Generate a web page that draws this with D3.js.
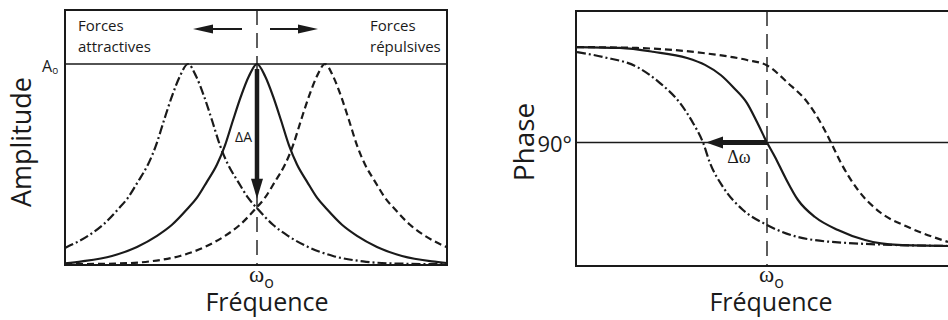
<!DOCTYPE html>
<html>
<meta charset="utf-8">
<style>
    body {
        margin: 0;
        background: #fff;
    }

    text {
        font-family: 'Open Sans', sans-serif;
        fill: #1a1a1a;
    }

    .greek {
        font-family: 'Liberation Serif', serif;
    }
</style>

<body>
    <svg id="chart" width="948" height="320"></svg>
    <script src="https://d3js.org/d3.v7.min.js"></script>
    <script>

        // amplitude (A / A0) against frequency, omega0 at 0
        const ampCentre = [[-1.92, 0.008], [-1.75, 0.018], [-1.45, 0.045], [-1.2, 0.09], [-1.0, 0.145], [-0.85, 0.2], [-0.7, 0.277], [-0.6, 0.335], [-0.5, 0.415], [-0.4, 0.5], [-0.32, 0.595], [-0.24, 0.72], [-0.16, 0.84], [-0.08, 0.94], [0, 1], [0.08, 0.94], [0.16, 0.84], [0.24, 0.72], [0.32, 0.595], [0.4, 0.5], [0.5, 0.415], [0.6, 0.335], [0.7, 0.277], [0.85, 0.2], [1.0, 0.145], [1.2, 0.09], [1.45, 0.045], [1.75, 0.018], [1.9, 0.01]]
        const ampAttractive = [[-1.92, 0.085], [-1.69, 0.145], [-1.54, 0.2], [-1.39, 0.277], [-1.29, 0.335], [-1.19, 0.415], [-1.09, 0.5], [-1.01, 0.595], [-0.93, 0.72], [-0.85, 0.84], [-0.77, 0.94], [-0.69, 1], [-0.61, 0.94], [-0.53, 0.84], [-0.45, 0.72], [-0.37, 0.595], [-0.29, 0.5], [-0.19, 0.415], [-0.09, 0.335], [0.01, 0.277], [0.16, 0.2], [0.31, 0.145], [0.51, 0.09], [0.76, 0.045], [1.06, 0.018], [1.41, 0.007], [1.9, 0.004]]
        const ampRepulsive = [[-1.92, 0.004], [-1.42, 0.007], [-1.07, 0.018], [-0.77, 0.045], [-0.52, 0.09], [-0.32, 0.145], [-0.17, 0.2], [-0.02, 0.277], [0.08, 0.335], [0.18, 0.415], [0.28, 0.5], [0.36, 0.595], [0.44, 0.72], [0.52, 0.84], [0.6, 0.94], [0.68, 1], [0.76, 0.94], [0.84, 0.84], [0.92, 0.72], [1.0, 0.595], [1.08, 0.5], [1.18, 0.415], [1.28, 0.335], [1.38, 0.277], [1.53, 0.2], [1.68, 0.145], [1.9, 0.088]]

        // phase (degrees) against frequency
        const phaseCentre = [[-1.9, 173], [-1.47, 172.2], [-1.14, 168.9], [-0.8, 163.5], [-0.62, 157.5], [-0.46, 148.5], [-0.34, 138.3], [-0.2, 124.3], [-0.1, 107.8], [0, 90], [0.08, 77.4], [0.18, 60], [0.31, 40], [0.48, 25.2], [0.71, 13.9], [0.98, 5.2], [1.31, 0.9], [1.81, 0]]
        const phaseAttractive = [[-1.9, 168.7], [-1.64, 164.3], [-1.3, 155.7], [-1.07, 141.7], [-0.87, 124.3], [-0.74, 107], [-0.64, 90], [-0.57, 72.2], [-0.44, 51.3], [-0.24, 31.3], [0, 18.3], [0.31, 7.8], [0.81, 2.6], [1.81, 0]]
        const phaseRepulsive = [[-1.9, 173], [-1.3, 172.2], [-0.64, 167.8], [-0.2, 161.7], [0, 157], [0.21, 141.7], [0.41, 124.3], [0.56, 103.5], [0.64, 90], [0.74, 72.2], [0.91, 48.7], [1.14, 28.7], [1.41, 16.5], [1.81, 3.5]]

        const omega0 = 0
        const phaseRef = 90
        const ampRef = 1
        const ampShift = 0.33   // amplitude read at omega0 once shifted
        const omegaShift = -0.61

        const ink = "#1a1a1a"
        const chart = d3.select("#chart")

        const styles = {
            solid: null,
            attractive: "9,3,2,3",
            repulsive: "7,4"
        }

        const drawArrow = (g, x1, y1, x2, y2, width, headLen, headHalf) => {
            const dx = x2 - x1, dy = y2 - y1
            const len = Math.sqrt(dx * dx + dy * dy)
            const ux = dx / len, uy = dy / len
            const bx = x2 - ux * headLen, by = y2 - uy * headLen
            g.append("line")
                .attr("x1", x1).attr("y1", y1)
                .attr("x2", bx + ux).attr("y2", by + uy)
                .attr("stroke", ink)
                .attr("stroke-width", width)
            g.append("path")
                .attr("d", "M" + x2 + "," + y2 +
                    "L" + (bx - uy * headHalf) + "," + (by + ux * headHalf) +
                    "L" + (bx + uy * headHalf) + "," + (by - ux * headHalf) + "Z")
                .attr("fill", ink)
        }

        // ---------- amplitude panel
        const xAmp = d3.scaleLinear().domain([-1.92, 1.90]).range([65, 447])
        const yAmp = d3.scaleLinear().domain([0, 1]).range([265, 64])
        const ampPanel = chart.append("g")

        ampPanel.append("line")
            .attr("x1", xAmp.range()[0]).attr("x2", xAmp.range()[1])
            .attr("y1", yAmp(ampRef)).attr("y2", yAmp(ampRef))
            .attr("stroke", ink).attr("stroke-width", 1.4)

        ampPanel.append("line")
            .attr("x1", xAmp(omega0)).attr("x2", xAmp(omega0))
            .attr("y1", 10).attr("y2", 265)
            .attr("stroke", ink).attr("stroke-width", 1.4)
            .attr("stroke-dasharray", "15,8")

        const ampLine = d3.line()
            .x(d => xAmp(d[0]))
            .y(d => yAmp(d[1]))
            .curve(d3.curveMonotoneX)

        const ampSeries = [
            { data: ampAttractive, dash: styles.attractive },
            { data: ampRepulsive, dash: styles.repulsive },
            { data: ampCentre, dash: styles.solid }
        ]

        ampPanel.selectAll("path.curve")
            .data(ampSeries)
            .enter()
            .append("path")
            .attr("class", "curve")
            .attr("d", d => ampLine(d.data))
            .attr("fill", "none")
            .attr("stroke", ink)
            .attr("stroke-width", 2.2)
            .attr("stroke-dasharray", d => d.dash)

        ampPanel.append("rect")
            .attr("x", 65).attr("y", 10)
            .attr("width", 382).attr("height", 255)
            .attr("fill", "none")
            .attr("stroke", ink).attr("stroke-width", 2)

        // delta A arrow
        drawArrow(ampPanel, xAmp(omega0), yAmp(ampRef) + 5, xAmp(omega0), yAmp(ampShift), 4.5, 20, 6)

        // direction arrows at the top
        drawArrow(ampPanel, xAmp(omega0) - 15, 29, xAmp(omega0) - 64, 29, 2, 20, 4.5)
        drawArrow(ampPanel, xAmp(omega0) + 13, 29, xAmp(omega0) + 61, 29, 2, 20, 4.5)

        ampPanel.append("text").attr("x", 78).attr("y", 31).style("font-size", "15px").text("Forces")
        ampPanel.append("text").attr("x", 78).attr("y", 52).style("font-size", "15px").text("attractives")
        ampPanel.append("text").attr("x", 370).attr("y", 31).style("font-size", "15px").text("Forces")
        ampPanel.append("text").attr("x", 370).attr("y", 52).style("font-size", "15px").text("répulsives")

        ampPanel.append("text")
            .attr("x", xAmp(omega0) - 5).attr("y", 142)
            .attr("text-anchor", "end")
            .style("font-size", "14px")
            .text("ΔA")

        const a0 = ampPanel.append("text")
            .attr("x", 42).attr("y", yAmp(ampRef) + 8)
            .style("font-size", "16px")
        a0.append("tspan").text("A")
        a0.append("tspan").attr("dy", 2).style("font-size", "10px").text("o")

        ampPanel.append("text")
            .attr("transform", "translate(31,142) rotate(-90)")
            .attr("text-anchor", "middle")
            .style("font-size", "27px")
            .text("Amplitude")

        // ---------- phase panel
        const xPh = d3.scaleLinear().domain([-1.91, 1.85]).range([576, 952])
        const yPh = d3.scaleLinear().domain([0, 180]).range([246, 39])
        const phPanel = chart.append("g")

        phPanel.append("line")
            .attr("x1", xPh.range()[0]).attr("x2", xPh.range()[1])
            .attr("y1", yPh(phaseRef)).attr("y2", yPh(phaseRef))
            .attr("stroke", ink).attr("stroke-width", 1.3)

        phPanel.append("line")
            .attr("x1", xPh(omega0)).attr("x2", xPh(omega0))
            .attr("y1", 11).attr("y2", 266)
            .attr("stroke", ink).attr("stroke-width", 1.4)
            .attr("stroke-dasharray", "15,8")

        const phLine = d3.line()
            .x(d => xPh(d[0]))
            .y(d => yPh(d[1]))
            .curve(d3.curveMonotoneX)

        const phSeries = [
            { data: phaseAttractive, dash: styles.attractive },
            { data: phaseRepulsive, dash: styles.repulsive },
            { data: phaseCentre, dash: styles.solid }
        ]

        phPanel.selectAll("path.curve")
            .data(phSeries)
            .enter()
            .append("path")
            .attr("class", "curve")
            .attr("d", d => phLine(d.data))
            .attr("fill", "none")
            .attr("stroke", ink)
            .attr("stroke-width", 2.2)
            .attr("stroke-dasharray", d => d.dash)

        phPanel.append("rect")
            .attr("x", 576).attr("y", 11)
            .attr("width", 400).attr("height", 255)
            .attr("fill", "none")
            .attr("stroke", ink).attr("stroke-width", 2)

        // delta omega arrow
        drawArrow(phPanel, xPh(omega0), yPh(phaseRef), xPh(omegaShift), yPh(phaseRef), 5, 17, 6)

        phPanel.append("text")
            .attr("class", "greek")
            .attr("x", 739).attr("y", 163)
            .attr("text-anchor", "middle")
            .style("font-size", "18px")
            .text("Δω")

        phPanel.append("text")
            .attr("x", 572).attr("y", yPh(phaseRef) + 9)
            .attr("text-anchor", "end")
            .style("font-size", "22px")
            .text("90°")

        phPanel.append("text")
            .attr("transform", "translate(534,142) rotate(-90)")
            .attr("text-anchor", "middle")
            .style("font-size", "28px")
            .text("Phase")

        // ---------- frequency labels
        const freqLabels = [
            { x: xAmp(omega0), centre: 267 },
            { x: xPh(omega0), centre: 771 }
        ]

        freqLabels.forEach(l => {
            const w = chart.append("text")
                .attr("x", l.x - 8).attr("y", 282)
            w.append("tspan")
                .attr("class", "greek")
                .style("font-size", "23px")
                .text("ω")
            w.append("tspan")
                .attr("dy", 6)
                .style("font-size", "16px")
                .text("o")
            chart.append("text")
                .attr("x", l.centre).attr("y", 311)
                .attr("text-anchor", "middle")
                .style("font-size", "25px")
                .text("Fréquence")
        })

    </script>
</body>

</html>
